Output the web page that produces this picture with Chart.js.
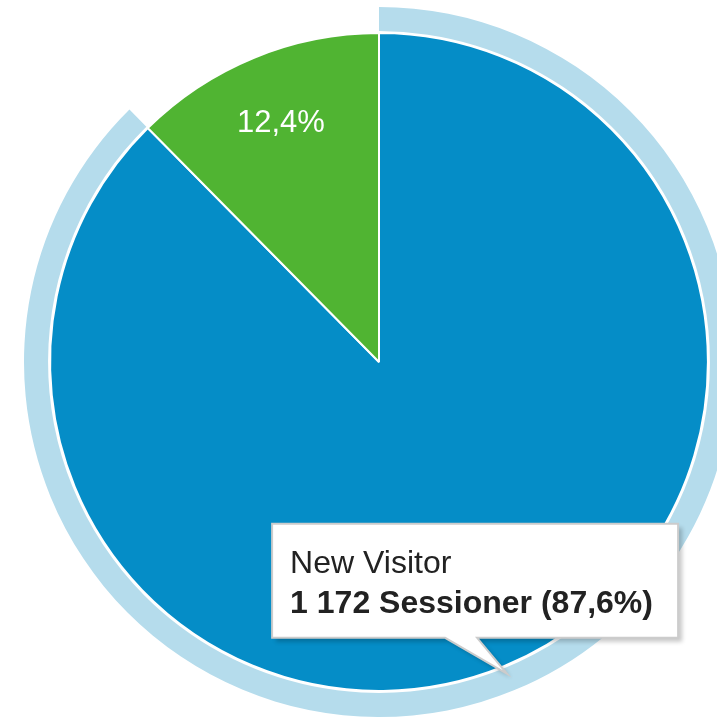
<!DOCTYPE html>
<html>
<head>
<meta charset="utf-8">
<script src="https://cdn.jsdelivr.net/npm/chart.js@4/dist/chart.umd.min.js"></script>
<style>
    html, body { margin: 0; padding: 0; background: #fff; overflow: hidden; }
    #wrap { position: absolute; left: 0; top: 0; width: 760px; height: 720px; }
</style>
</head>
<body>
<div id="wrap"><canvas id="pie" width="760" height="720"></canvas></div>
<script>
// Data
const visitorTypes = ['New Visitor', 'Returning Visitor'];
const sessions = [1172, 166];
const sessionWord = 'Sessioner';
const highlighted = 0; // slice with the hover ring + tooltip

// Colours
const sliceColors = ['#058dc7', '#50b432'];
const ringColor = '#b5dcec';

const total = sessions.reduce((s, v) => s + v, 0);

// Swedish style: comma decimals, space thousands
function pct(v) {
    return (v / total * 100).toFixed(1).replace('.', ',');
}
function thousands(v) {
    return String(v).replace(/\B(?=(\d{3})+(?!\d))/g, ' ');
}

const fontFamily = '"Liberation Sans", Arial, sans-serif';

// Draws the percent label in the small slice and the tooltip box
const overlayPlugin = {
    id: 'overlay',
    afterDatasetsDraw(chart) {
        const ctx = chart.ctx;
        const meta = chart.getDatasetMeta(2);

        // label inside the returning visitor slice
        meta.data.forEach((arc, i) => {
            if (i === highlighted) return;
            const mid = (arc.startAngle + arc.endAngle) / 2;
            const r = arc.outerRadius * 0.785;
            ctx.save();
            ctx.fillStyle = '#ffffff';
            ctx.font = '31px ' + fontFamily;
            ctx.textAlign = 'center';
            ctx.textBaseline = 'middle';
            ctx.fillText(pct(sessions[i]) + '%', arc.x + Math.cos(mid) * r, arc.y + Math.sin(mid) * r);
            ctx.restore();
        });

        // tooltip for the highlighted slice
        const hit = meta.data[highlighted];
        const ang = (hit.startAngle + hit.endAngle) / 2;
        const tr = hit.outerRadius * 1.025;
        const tipX = hit.x + Math.cos(ang) * tr;
        const tipY = hit.y + Math.sin(ang) * tr;

        const boxW = 406, boxH = 114;
        const left = tipX - 235, top = tipY - 150;
        const right = left + boxW, bottom = top + boxH;

        ctx.save();
        ctx.beginPath();
        ctx.moveTo(left, top);
        ctx.lineTo(right, top);
        ctx.lineTo(right, bottom);
        ctx.lineTo(tipX - 30, bottom);
        ctx.lineTo(tipX, tipY);
        ctx.lineTo(tipX - 62, bottom);
        ctx.lineTo(left, bottom);
        ctx.closePath();
        ctx.shadowColor = 'rgba(0, 0, 0, 0.22)';
        ctx.shadowBlur = 4;
        ctx.shadowOffsetX = 4;
        ctx.shadowOffsetY = 4;
        ctx.fillStyle = '#ffffff';
        ctx.fill();
        ctx.shadowColor = 'transparent';
        ctx.lineWidth = 2;
        ctx.strokeStyle = '#cccccc';
        ctx.stroke();

        ctx.fillStyle = '#222222';
        ctx.textAlign = 'left';
        ctx.textBaseline = 'alphabetic';
        ctx.font = '32px ' + fontFamily;
        ctx.fillText(visitorTypes[highlighted], left + 18, top + 49);
        ctx.font = 'bold 32px ' + fontFamily;
        ctx.fillText(thousands(sessions[highlighted]) + ' ' + sessionWord + ' (' + pct(sessions[highlighted]) + '%)', left + 18, top + 89);
        ctx.restore();
    }
};

const ctx = document.getElementById('pie').getContext('2d');

new Chart(ctx, {
    type: 'doughnut',
    data: {
        labels: visitorTypes,
        datasets: [
            {
                // hover ring around the highlighted slice
                data: sessions,
                backgroundColor: sessions.map((v, i) => i === highlighted ? ringColor : 'rgba(0,0,0,0)'),
                borderWidth: 0,
                weight: 24
            },
            {
                // white gap between ring and pie
                data: sessions,
                backgroundColor: 'rgba(0,0,0,0)',
                borderWidth: 0,
                weight: 2
            },
            {
                data: sessions,
                backgroundColor: sliceColors,
                borderColor: '#ffffff',
                borderWidth: 2,
                weight: 328
            }
        ]
    },
    options: {
        responsive: false,
        animation: false,
        events: [],
        cutout: 0,
        hoverOffset: 0,
        layout: {
            padding: { left: 24, top: 7, right: 26, bottom: 3 }
        },
        plugins: {
            legend: { display: false },
            tooltip: { enabled: false }
        }
    },
    plugins: [overlayPlugin]
});
</script>
</body>
</html>
